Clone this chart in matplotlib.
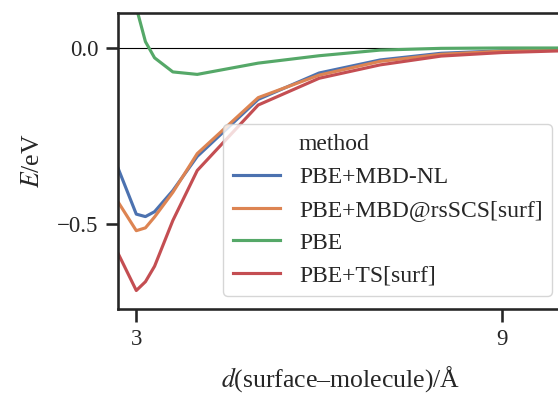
import matplotlib
matplotlib.use("Agg")
import matplotlib.pyplot as plt
from matplotlib.lines import Line2D

plt.rcParams['font.family'] = ['Liberation Serif', 'DejaVu Serif']
plt.rcParams['mathtext.fontset'] = 'stix'

# distances in Angstrom
dist = [2.7, 3.0, 3.15, 3.3, 3.6, 4.0, 5.0, 6.0, 7.0, 8.0, 9.0, 10.0]

mbd_nl = [-0.341, -0.472, -0.479, -0.465, -0.405, -0.308, -0.146, -0.071, -0.034, -0.015, -0.008, -0.004]
mbd_rsscs = [-0.437, -0.519, -0.511, -0.480, -0.410, -0.300, -0.141, -0.077, -0.038, -0.018, -0.009, -0.005]
pbe = [0.55, 0.115, 0.018, -0.028, -0.068, -0.075, -0.043, -0.022, -0.006, -0.001, 0.0, 0.0]
ts_surf = [-0.583, -0.689, -0.664, -0.620, -0.490, -0.348, -0.162, -0.086, -0.048, -0.023, -0.013, -0.008]

methods = ['PBE+MBD-NL', 'PBE+MBD@rsSCS[surf]', 'PBE', 'PBE+TS[surf]']
colors = ['#4c72b0', '#dd8452', '#55a868', '#c44e52']

fig = plt.figure(figsize=(5.58, 3.93), dpi=100)
ax = fig.add_axes([118 / 558, 1 - 309 / 393, 445 / 558, 296 / 393])

ax.axhline(0, color='black', lw=0.8)
lines = []
for ys, c in zip([mbd_nl, mbd_rsscs, pbe, ts_surf], colors):
    l, = ax.plot(dist, ys, color=c, lw=2.25)
    lines.append(l)

ax.set_xlim(2.7, 10.0)
ax.set_ylim(-0.7415, 0.0994)
ax.set_xticks([3, 9])
ax.set_yticks([0.0, -0.5])
ax.set_yticklabels(['0.0', '\u22120.5'])
ax.tick_params(labelsize=16.5, width=1.875, length=9, pad=5.25,
               color='#262626', labelcolor='#262626')
for s in ax.spines.values():
    s.set_linewidth(1.875)
    s.set_color('#262626')

ax.set_xlabel(r'$d$(surface–molecule)/Å', fontsize=18.5, color='#262626', labelpad=10)
ax.set_ylabel(r'$E$/eV', fontsize=18.5, color='#262626', labelpad=9)

blank = Line2D([], [], color='none')
leg = ax.legend([blank] + lines, ['method'] + methods, fontsize=17,
                loc='lower right', bbox_to_anchor=(552 / 558, 1 - 296 / 393),
                bbox_transform=fig.transFigure, borderaxespad=0,
                labelspacing=0.48, framealpha=0.8, edgecolor='#cccccc',
                fancybox=True)
for t in leg.get_texts():
    t.set_color('#262626')

fig.savefig('out.png', dpi=100)
